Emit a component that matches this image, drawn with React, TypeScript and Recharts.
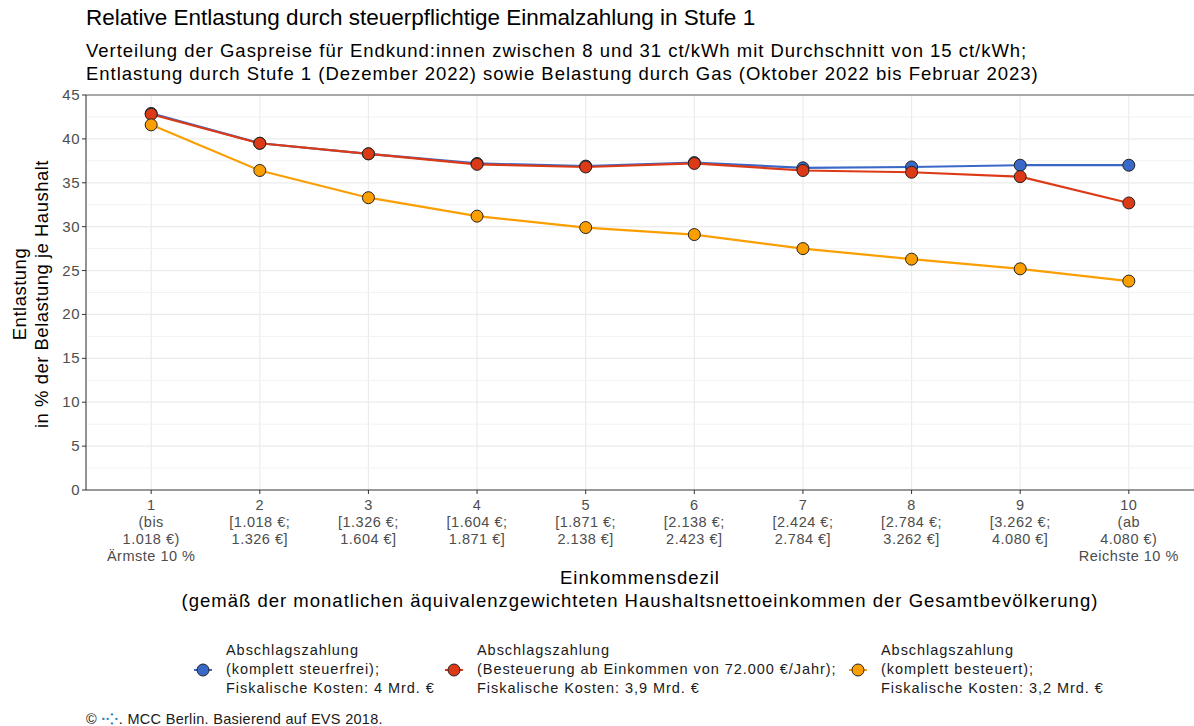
import { CartesianGrid, Line, LineChart, ReferenceLine, XAxis, YAxis } from "recharts";

const deciles = [1, 2, 3, 4, 5, 6, 7, 8, 9, 10];
const steuerfrei = [42.9, 39.5, 38.3, 37.2, 36.9, 37.3, 36.7, 36.8, 37.0, 37.0];
const besteuerungAb72k = [42.8, 39.5, 38.3, 37.1, 36.8, 37.2, 36.4, 36.2, 35.7, 32.7];
const komplettBesteuert = [41.6, 36.4, 33.3, 31.2, 29.9, 29.1, 27.5, 26.3, 25.2, 23.8];
const tickLines = [
  ["1", "(bis", "1.018 €)", "Ärmste 10 %"],
  ["2", "[1.018 €;", "1.326 €]"],
  ["3", "[1.326 €;", "1.604 €]"],
  ["4", "[1.604 €;", "1.871 €]"],
  ["5", "[1.871 €;", "2.138 €]"],
  ["6", "[2.138 €;", "2.423 €]"],
  ["7", "[2.424 €;", "2.784 €]"],
  ["8", "[2.784 €;", "3.262 €]"],
  ["9", "[3.262 €;", "4.080 €]"],
  ["10", "(ab", "4.080 €)", "Reichste 10 %"],
];
const yTicks = [0, 5, 10, 15, 20, 25, 30, 35, 40, 45];
const minorTicks = [2.5, 7.5, 12.5, 17.5, 22.5, 27.5, 32.5, 37.5, 42.5];

const BLUE = "#3a68c9";
const RED = "#dc3a16";
const ORANGE = "#fb9e00";

const data = deciles.map((d, i) => ({
  dezil: d,
  blau: steuerfrei[i],
  rot: besteuerungAb72k[i],
  orange: komplettBesteuert[i],
}));

const font = "'Liberation Sans', Arial, sans-serif";

function DezilTick(props: any) {
  const { x, y, payload } = props;
  const lines = tickLines[payload.value - 1] || [];
  return (
    <g transform={`translate(${x},${y})`}>
      {lines.map((l, i) => (
        <text key={i} x={0} y={14 + i * 17} textAnchor="middle" fill="#4d4d4d" fontSize={14.5} letterSpacing={0.5} fontFamily={font}>
          {l}
        </text>
      ))}
    </g>
  );
}

function ValueTick(props: any) {
  const { x, y, payload } = props;
  return (
    <text x={x} y={y + 5} textAnchor="end" fill="#4d4d4d" fontSize={15} letterSpacing={0.5} fontFamily={font}>
      {payload.value}
    </text>
  );
}

const dot = (color: string) => ({ r: 6, fill: color, stroke: "#222", strokeWidth: 1 });

function LegendItem({ color, lines, left }: { color: string; lines: string[]; left: number }) {
  return (
    <div style={{ position: "absolute", left, top: 641, display: "flex", alignItems: "center" }}>
      <svg width={18} height={18} style={{ marginRight: 14 }}>
        <line x1={0} y1={9} x2={18} y2={9} stroke={color} strokeWidth={2} />
        <circle cx={9} cy={9} r={6} fill={color} stroke="#222" strokeWidth={1} />
      </svg>
      <div style={{ fontSize: 14.5, letterSpacing: 0.95, lineHeight: "19px", color: "#1a1a1a", whiteSpace: "nowrap" }}>
        {lines.map((l, i) => (
          <div key={i}>{l}</div>
        ))}
      </div>
    </div>
  );
}

export default function App() {
  return (
    <div style={{ position: "absolute", left: 0, top: 0, width: 1194, height: 726, background: "#fff", fontFamily: font, overflow: "hidden" }}>
      <div style={{ position: "absolute", left: 86, top: 5, fontSize: 22.5, color: "#000", whiteSpace: "nowrap" }}>
        Relative Entlastung durch steuerpflichtige Einmalzahlung in Stufe 1
      </div>
      <div style={{ position: "absolute", left: 86, top: 39, fontSize: 18.5, letterSpacing: 0.98, lineHeight: "23px", color: "#000", whiteSpace: "nowrap" }}>
        <div>Verteilung der Gaspreise für Endkund:innen zwischen 8 und 31 ct/kWh mit Durchschnitt von 15 ct/kWh;</div>
        <div>Entlastung durch Stufe 1 (Dezember 2022) sowie Belastung durch Gas (Oktober 2022 bis Februar 2023)</div>
      </div>
      <div
        style={{
          position: "absolute",
          left: 31,
          top: 294,
          transform: "translate(-50%, -50%) rotate(-90deg)",
          fontSize: 18.5,
          letterSpacing: 0.5,
          lineHeight: "22px",
          textAlign: "center",
          whiteSpace: "nowrap",
          color: "#000",
        }}
      >
        <div>Entlastung</div>
        <div>in % der Belastung je Haushalt</div>
      </div>
      <div style={{ position: "absolute", left: 0, top: 0 }}>
        <LineChart width={1194} height={580} data={data} margin={{ top: 95, right: 0, bottom: 0, left: 50 }}>
          <CartesianGrid horizontal={false} stroke="#ebebeb" strokeWidth={1.2} />
          {minorTicks.map((v) => (
            <ReferenceLine key={"m" + v} y={v} stroke="#f2f2f2" strokeWidth={1} />
          ))}
          {yTicks.slice(1, -1).map((v) => (
            <ReferenceLine key={"g" + v} y={v} stroke="#ebebeb" strokeWidth={1.2} />
          ))}
          <ReferenceLine y={45} stroke="#555" strokeWidth={1} />
          <XAxis
            dataKey="dezil"
            type="number"
            domain={[0.4, 10.6]}
            ticks={deciles}
            tick={<DezilTick />}
            tickSize={4}
            stroke="#333"
            height={90}
            interval={0}
          />
          <YAxis
            type="number"
            domain={[0, 45]}
            ticks={yTicks}
            width={36}
            tickSize={4}
            stroke="#333"
            tick={<ValueTick />}
            interval={0}
          />
          <Line dataKey="blau" stroke={BLUE} strokeWidth={2.2} dot={dot(BLUE)} isAnimationActive={false} />
          <Line dataKey="rot" stroke={RED} strokeWidth={2.2} dot={dot(RED)} isAnimationActive={false} />
          <Line dataKey="orange" stroke={ORANGE} strokeWidth={2.2} dot={dot(ORANGE)} isAnimationActive={false} />
        </LineChart>
      </div>
      <div style={{ position: "absolute", left: 0, width: 1280, top: 566, textAlign: "center", fontSize: 18.5, letterSpacing: 1.0, lineHeight: "23px", color: "#000", whiteSpace: "nowrap" }}>
        <div>Einkommensdezil</div>
        <div>(gemäß der monatlichen äquivalenzgewichteten Haushaltsnettoeinkommen der Gesamtbevölkerung)</div>
      </div>
      <LegendItem color={BLUE} left={194} lines={["Abschlagszahlung", "(komplett steuerfrei);", "Fiskalische Kosten: 4 Mrd. €"]} />
      <LegendItem color={RED} left={445} lines={["Abschlagszahlung", "(Besteuerung ab Einkommen von 72.000 €/Jahr);", "Fiskalische Kosten: 3,9 Mrd. €"]} />
      <LegendItem color={ORANGE} left={849} lines={["Abschlagszahlung", "(komplett besteuert);", "Fiskalische Kosten: 3,2 Mrd. €"]} />
      <div style={{ position: "absolute", left: 86, top: 708, fontSize: 14.5, letterSpacing: 0.3, color: "#1a1a1a", whiteSpace: "nowrap" }}>
        © <span style={{ color: "#2a7fb8", fontWeight: "bold" }}>·⁘</span>. MCC Berlin. Basierend auf EVS 2018.
      </div>
    </div>
  );
}
